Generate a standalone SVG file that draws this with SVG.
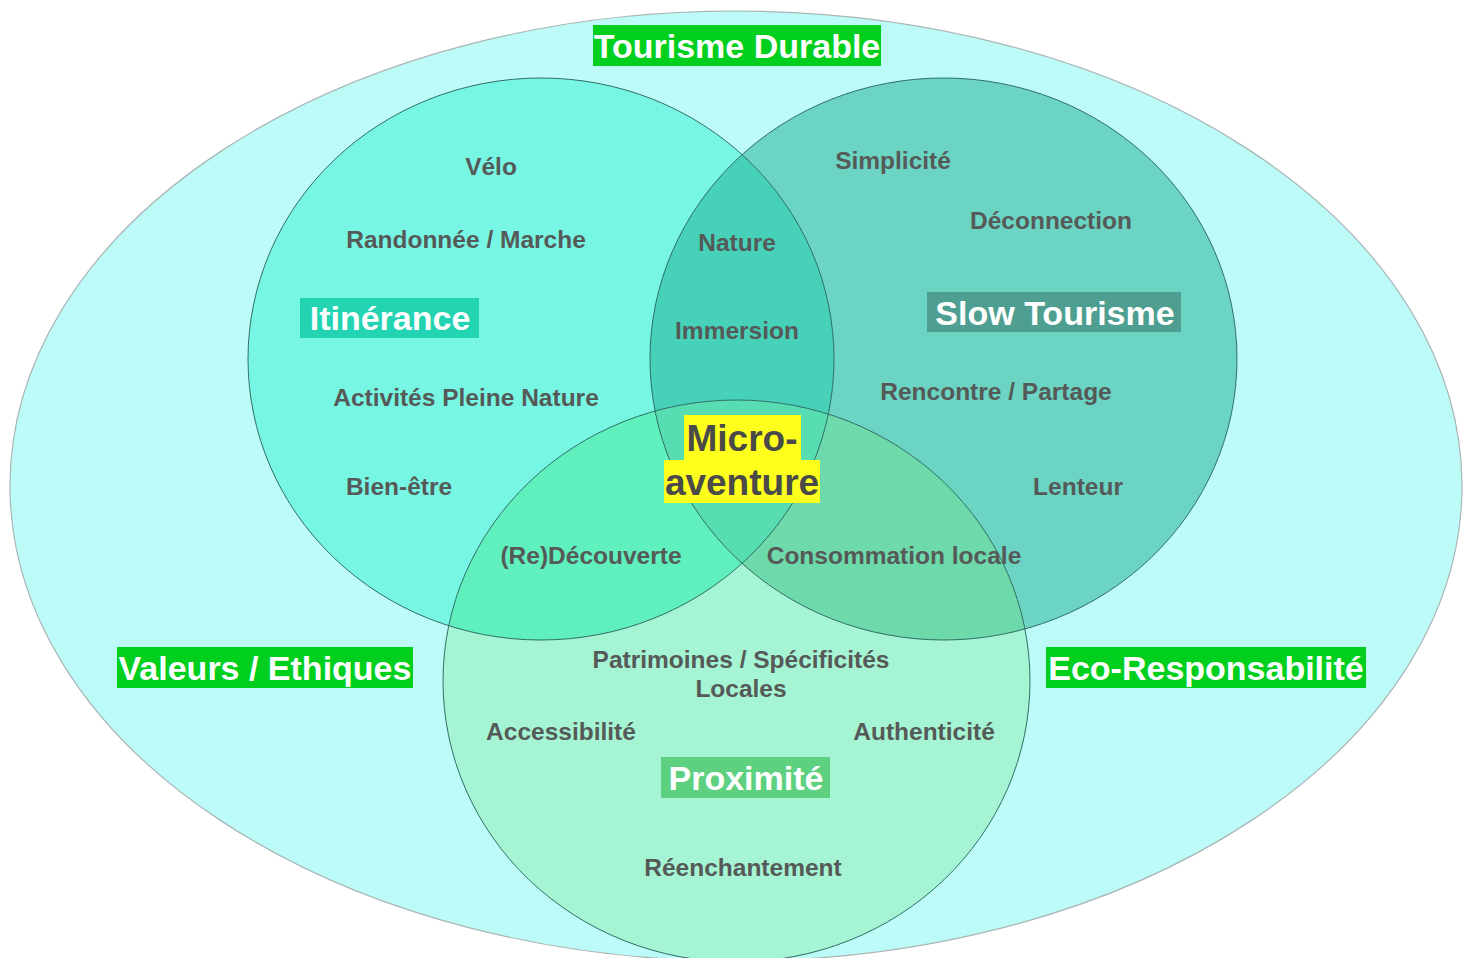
<svg xmlns="http://www.w3.org/2000/svg" width="1472" height="958" viewBox="0 0 1472 958">
<defs>
<style>
.t{font-family:"Liberation Sans",Arial,sans-serif;font-weight:bold;font-size:24.5px;fill:#555a58;text-anchor:middle}
.h{font-family:"Liberation Sans",Arial,sans-serif;font-weight:bold;font-size:34px;fill:#ffffff;text-anchor:middle}
.m{font-family:"Liberation Sans",Arial,sans-serif;font-weight:bold;font-size:37px;fill:#4a4a48;text-anchor:middle}
.ol{fill:none;stroke:#2f6f66;stroke-width:1}
</style>
<clipPath id="cA"><ellipse cx="541" cy="359" rx="293" ry="281"/></clipPath>
<clipPath id="cB"><ellipse cx="943.5" cy="359" rx="293.5" ry="281"/></clipPath>
<clipPath id="cC"><ellipse cx="736.5" cy="681" rx="293.5" ry="281"/></clipPath>
</defs>
<rect width="1472" height="958" fill="#ffffff"/>
<g id="tourisme-durable">
<ellipse cx="736" cy="486" rx="726" ry="475" fill="#bdfbf8" stroke="#a9b6b5" stroke-width="1.2"/>
</g>
<g id="regions">
<ellipse cx="541" cy="359" rx="293" ry="281" fill="#78f6e4"/>
<ellipse cx="943.5" cy="359" rx="293.5" ry="281" fill="#6cd4c3"/>
<ellipse cx="736.5" cy="681" rx="293.5" ry="281" fill="#a5f4d3"/>
<g clip-path="url(#cA)"><ellipse cx="943.5" cy="359" rx="293.5" ry="281" fill="#46d1b8"/><ellipse cx="736.5" cy="681" rx="293.5" ry="281" fill="#5ff0be"/></g>
<g clip-path="url(#cB)"><ellipse cx="736.5" cy="681" rx="293.5" ry="281" fill="#6ed9aa"/></g>
<g clip-path="url(#cA)"><g clip-path="url(#cB)"><ellipse cx="736.5" cy="681" rx="293.5" ry="281" fill="#58dcb2"/></g></g>
<ellipse class="ol" cx="541" cy="359" rx="293" ry="281"/>
<ellipse class="ol" cx="943.5" cy="359" rx="293.5" ry="281"/>
<ellipse class="ol" cx="736.5" cy="681" rx="293.5" ry="281"/>
</g>
<g id="label-tourisme-durable">
<rect x="593" y="25" width="288" height="41" fill="#00cf1e"/>
<text class="h" x="737" y="58">Tourisme Durable</text>
</g>
<g id="itinerance">
<rect x="300" y="298" width="179" height="40" fill="#22d4b2"/>
<text class="h" x="390" y="330">Itinérance</text>
<text class="t" x="491" y="175">Vélo</text>
<text class="t" x="466" y="248">Randonnée / Marche</text>
<text class="t" x="466" y="406">Activités Pleine Nature</text>
<text class="t" x="399" y="495">Bien-être</text>
</g>
<g id="slow-tourisme">
<rect x="927" y="292" width="254" height="40" fill="#4e9f91"/>
<text class="h" x="1055" y="325">Slow Tourisme</text>
<text class="t" x="893" y="169">Simplicité</text>
<text class="t" x="1051" y="229">Déconnection</text>
<text class="t" x="996" y="400">Rencontre / Partage</text>
<text class="t" x="1078" y="495">Lenteur</text>
</g>
<g id="intersection-itinerance-slow">
<text class="t" x="737" y="251">Nature</text>
<text class="t" x="737" y="339">Immersion</text>
</g>
<g id="proximite">
<rect x="661" y="757" width="169" height="41" fill="#5dd17f"/>
<text class="h" x="746" y="790">Proximité</text>
<text class="t" x="741" y="668">Patrimoines / Spécificités</text>
<text class="t" x="741" y="697">Locales</text>
<text class="t" x="561" y="740">Accessibilité</text>
<text class="t" x="924" y="740">Authenticité</text>
<text class="t" x="743" y="876">Réenchantement</text>
</g>
<g id="intersection-itinerance-proximite">
<text class="t" x="591" y="564">(Re)Découverte</text>
</g>
<g id="intersection-slow-proximite">
<text class="t" x="894" y="564">Consommation locale</text>
</g>
<g id="micro-aventure">
<rect x="684" y="415" width="117" height="46" fill="#ffff1e"/>
<rect x="664" y="460" width="156" height="43" fill="#ffff1e"/>
<text class="m" x="742" y="451">Micro-</text>
<text class="m" x="742" y="495">aventure</text>
</g>
<g id="valeurs-ethiques">
<rect x="117" y="647" width="296" height="41" fill="#00cf1e"/>
<text class="h" x="265" y="680">Valeurs / Ethiques</text>
</g>
<g id="eco-responsabilite">
<rect x="1046" y="647" width="320" height="41" fill="#00cf1e"/>
<text class="h" x="1206" y="680">Eco-Responsabilité</text>
</g>
</svg>
